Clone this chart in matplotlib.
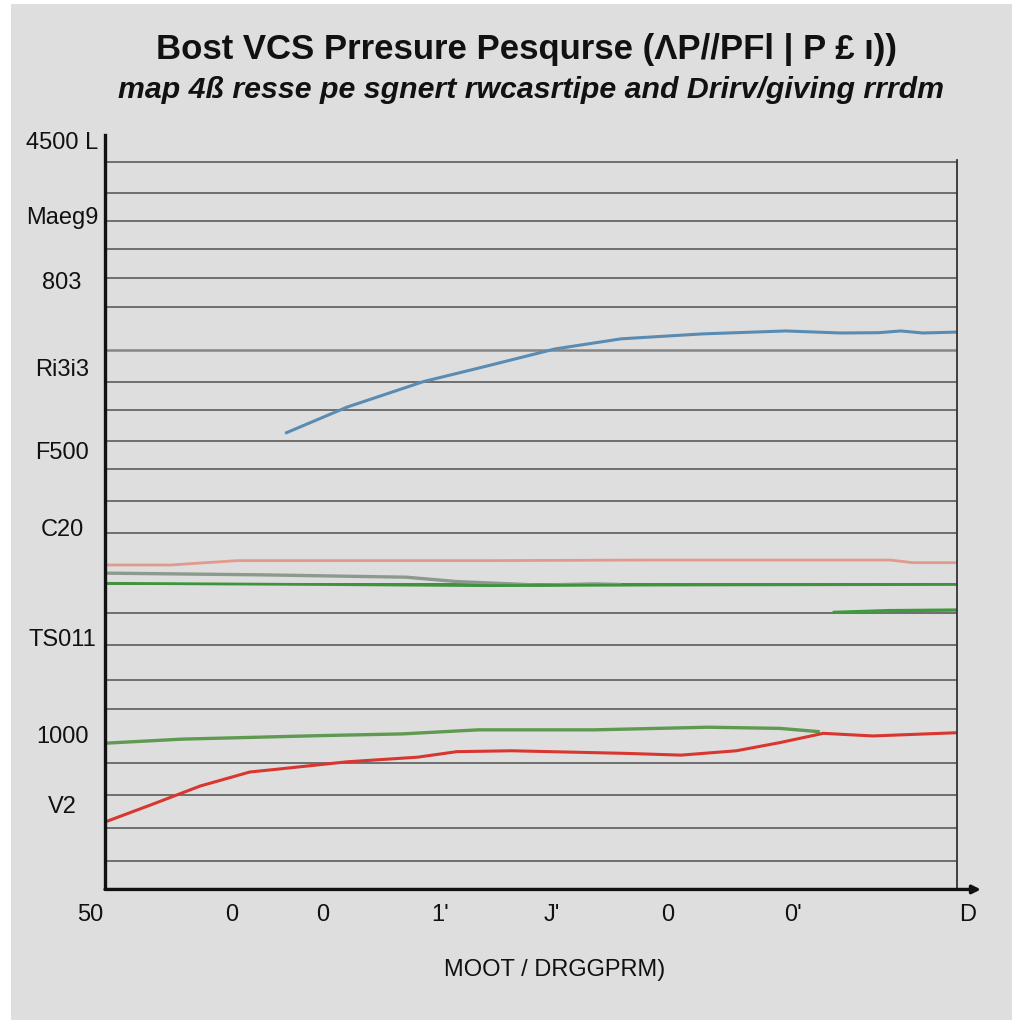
import matplotlib.pyplot as plt
import matplotlib.patches as mpatches
import matplotlib.transforms as mtransforms

plt.rcParams['font.family'] = ['Liberation Sans', 'DejaVu Sans']

# Series (x: 0-100 across the plot, y: arbitrary chart units)
blue_x = [21.3, 28.4, 37.4, 44.5, 52.8, 60.6, 70.2, 79.9, 86.3, 90.8, 93.4, 96.0, 99.9]
blue_y = [15.76, 16.64, 17.52, 18.03, 18.64, 18.99, 19.16, 19.26, 19.19, 19.20, 19.26, 19.19, 19.22]

salmon_x = [0.0, 7.7, 15.5, 44.5, 63.8, 92.2, 94.8, 99.9]
salmon_y = [11.21, 11.21, 11.36, 11.36, 11.38, 11.38, 11.29, 11.29]

gray_x = [0.0, 18.7, 35.4, 41.3, 50.9, 57.4, 60.4]
gray_y = [10.93, 10.87, 10.79, 10.64, 10.52, 10.56, 10.54]

green_x = [0.0, 25.1, 44.5, 63.8, 99.9]
green_y = [10.58, 10.54, 10.50, 10.52, 10.54]

green_short_x = [85.6, 92.0, 99.9]
green_short_y = [9.58, 9.64, 9.66]

green_low_x = [0.0, 9.0, 25.1, 34.9, 43.8, 57.4, 70.8, 79.2, 83.7]
green_low_y = [5.08, 5.22, 5.34, 5.40, 5.54, 5.54, 5.63, 5.59, 5.48]

red_x = [0.0, 5.3, 11.2, 17.0, 20.0, 28.4, 36.7, 41.3, 47.7, 61.2, 67.6, 74.1, 79.2, 84.3, 90.1, 99.9]
red_y = [2.37, 2.95, 3.61, 4.09, 4.18, 4.44, 4.60, 4.79, 4.82, 4.73, 4.67, 4.82, 5.10, 5.42, 5.33, 5.44]

grid_levels = [25.07, 24.01, 23.04, 22.08, 21.08, 20.09, 18.61, 17.51, 16.54, 15.48,
               14.51, 13.41, 12.31, 10.56, 9.56, 8.46, 7.25, 6.26, 4.40, 3.30, 2.16, 1.03]

ytick_pos = [25.73, 23.15, 20.91, 17.92, 15.06, 12.41, 8.63, 5.29, 2.89]
ytick_labels = ['4500 L', 'Maeg9', '803', 'Ri3i3', 'F500', 'C20', 'TS011', '1000', "V2"]

xtick_pos = [-1.76, 14.9, 25.5, 39.3, 52.5, 66.1, 80.8, 101.3]
xtick_labels = ['50', '0', '0', "1'", "J'", '0', "0'", 'D']

title = 'Bost VCS Prresure Pesqurse (\u039bP//PFl | P \u00a3 \u0131))'
subtitle = 'map 4\u00df resse pe sgnert rwcasrtipe and Drirv/giving rrrdm'
xlabel = 'MOOT / DRGGPRM)'

BG = '#dedede'

fig = plt.figure(figsize=(10.24, 10.24), dpi=100, facecolor='white')
fig.patches.append(mpatches.Rectangle((11 / 1024, 4 / 1024), 1001 / 1024, 1016 / 1024,
                                      transform=fig.transFigure, facecolor=BG,
                                      edgecolor='none', zorder=-5))

ax = fig.add_axes([105 / 1024, 1 - 888 / 1024, 852 / 1024, 753 / 1024])
ax.set_facecolor(BG)
ax.set_xlim(0, 100)
ax.set_ylim(0.1, 26.0)

# gridlines
for g in grid_levels:
    thick = abs(g - 18.61) < 0.01
    ax.hlines(g, 0, 100, colors='#858585' if thick else '#505050',
              linewidth=1.8 if thick else 1.1, zorder=1)

ax.plot(salmon_x, salmon_y, color='#e29a8c', lw=2.0, zorder=3)
ax.plot(gray_x, gray_y, color='#8c9a8e', lw=2.4, zorder=3)
ax.plot(green_x, green_y, color='#3d943d', lw=2.0, zorder=3)
ax.plot(green_short_x, green_short_y, color='#3d9a3d', lw=2.4, zorder=3)
ax.plot(green_low_x, green_low_y, color='#5f9a50', lw=2.4, zorder=3)
ax.plot(red_x, red_y, color='#d8362e', lw=2.2, zorder=4)
ax.plot(blue_x, blue_y, color='#5a8cb3', lw=2.2, zorder=4)

for side in ['top', 'right', 'bottom', 'left']:
    ax.spines[side].set_visible(False)
ax.set_xticks([])
ax.set_yticks([])

# axis lines
ax.plot([0, 0], [0.1, 26.0], color='#111111', lw=2.4, clip_on=False, zorder=5)
ax.plot([100, 100], [0.1, 25.15], color='#333333', lw=1.3, clip_on=False, zorder=5)
ax.annotate('', xy=(102.8, 0.05), xytext=(0, 0.05),
            arrowprops=dict(arrowstyle='-|>', color='#111111', lw=2.4,
                            mutation_scale=12, shrinkA=0, shrinkB=0),
            annotation_clip=False, zorder=5)

ytrans = mtransforms.blended_transform_factory(ax.transAxes, ax.transData)
for pos, lab in zip(ytick_pos, ytick_labels):
    ax.text((62 - 105) / 852, pos, lab, transform=ytrans, ha='center', va='center',
            fontsize=17, color='#111111', clip_on=False)

xtrans = mtransforms.blended_transform_factory(ax.transData, ax.transAxes)
for pos, lab in zip(xtick_pos, xtick_labels):
    ax.text(pos, -(915 - 888) / 753, lab, transform=xtrans, ha='center', va='center',
            fontsize=17, color='#111111', clip_on=False)

fig.text(555 / 1024, 1 - 970 / 1024, xlabel, ha='center', va='center',
         fontsize=17, color='#111111')
fig.text(527 / 1024, 1 - 49 / 1024, title, ha='center', va='center',
         fontsize=25, fontweight='bold', color='#111111')
fig.text(531 / 1024, 1 - 90 / 1024, subtitle, ha='center', va='center',
         fontsize=21.8, fontweight='bold', fontstyle='italic', color='#111111')

fig.savefig('out.png', dpi=100, facecolor='white')
